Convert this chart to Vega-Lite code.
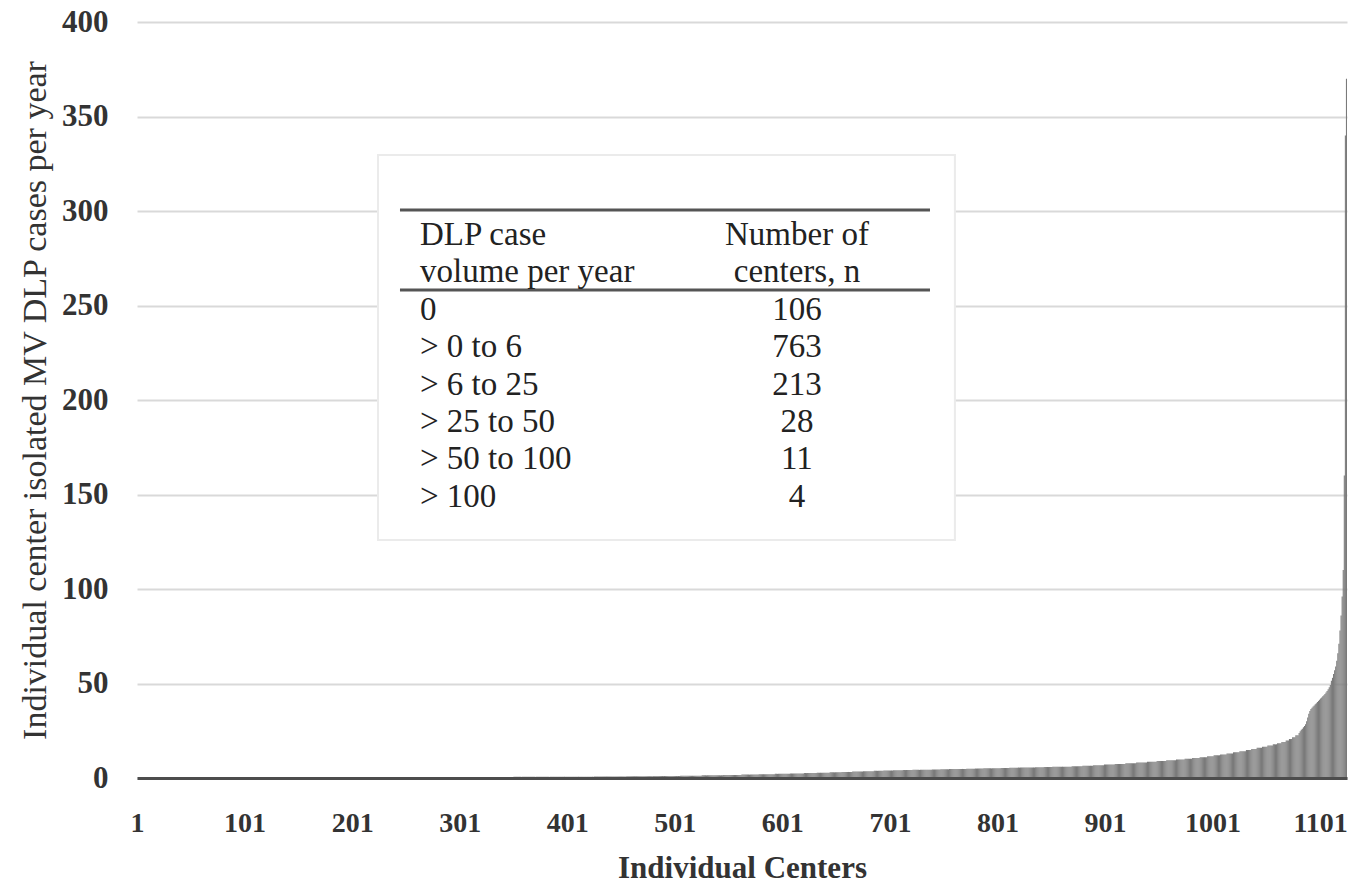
{
"$schema": "https://vega.github.io/schema/vega-lite/v6.json",
"width": 1210,
"height": 756,
"autosize": {"type": "none"},
"padding": {"left": 137, "top": 22, "right": 3, "bottom": 106},
"background": "white",
"config": {"view": {"stroke": null}, "font": "Liberation Serif", "axis": {"labelFont": "Liberation Serif", "titleFont": "Liberation Serif"}},
"layer": [
{
"data": {"values": [
{"c":1,"v":0},{"c":2,"v":0},{"c":3,"v":0},{"c":4,"v":0},{"c":5,"v":0},{"c":6,"v":0},{"c":7,"v":0},{"c":8,"v":0},{"c":9,"v":0},{"c":10,"v":0},
{"c":11,"v":0},{"c":12,"v":0},{"c":13,"v":0},{"c":14,"v":0},{"c":15,"v":0},{"c":16,"v":0},{"c":17,"v":0},{"c":18,"v":0},{"c":19,"v":0},{"c":20,"v":0},
{"c":21,"v":0},{"c":22,"v":0},{"c":23,"v":0},{"c":24,"v":0},{"c":25,"v":0},{"c":26,"v":0},{"c":27,"v":0},{"c":28,"v":0},{"c":29,"v":0},{"c":30,"v":0},
{"c":31,"v":0},{"c":32,"v":0},{"c":33,"v":0},{"c":34,"v":0},{"c":35,"v":0},{"c":36,"v":0},{"c":37,"v":0},{"c":38,"v":0},{"c":39,"v":0},{"c":40,"v":0},
{"c":41,"v":0},{"c":42,"v":0},{"c":43,"v":0},{"c":44,"v":0},{"c":45,"v":0},{"c":46,"v":0},{"c":47,"v":0},{"c":48,"v":0},{"c":49,"v":0},{"c":50,"v":0},
{"c":51,"v":0},{"c":52,"v":0},{"c":53,"v":0},{"c":54,"v":0},{"c":55,"v":0},{"c":56,"v":0},{"c":57,"v":0},{"c":58,"v":0},{"c":59,"v":0},{"c":60,"v":0},
{"c":61,"v":0},{"c":62,"v":0},{"c":63,"v":0},{"c":64,"v":0},{"c":65,"v":0},{"c":66,"v":0},{"c":67,"v":0},{"c":68,"v":0},{"c":69,"v":0},{"c":70,"v":0},
{"c":71,"v":0},{"c":72,"v":0},{"c":73,"v":0},{"c":74,"v":0},{"c":75,"v":0},{"c":76,"v":0},{"c":77,"v":0},{"c":78,"v":0},{"c":79,"v":0},{"c":80,"v":0},
{"c":81,"v":0},{"c":82,"v":0},{"c":83,"v":0},{"c":84,"v":0},{"c":85,"v":0},{"c":86,"v":0},{"c":87,"v":0},{"c":88,"v":0},{"c":89,"v":0},{"c":90,"v":0},
{"c":91,"v":0},{"c":92,"v":0},{"c":93,"v":0},{"c":94,"v":0},{"c":95,"v":0},{"c":96,"v":0},{"c":97,"v":0},{"c":98,"v":0},{"c":99,"v":0},{"c":100,"v":0},
{"c":101,"v":0},{"c":102,"v":0},{"c":103,"v":0},{"c":104,"v":0},{"c":105,"v":0},{"c":106,"v":0},{"c":107,"v":0.1},{"c":108,"v":0.1},{"c":109,"v":0.1},{"c":110,"v":0.1},
{"c":111,"v":0.1},{"c":112,"v":0.1},{"c":113,"v":0.1},{"c":114,"v":0.1},{"c":115,"v":0.1},{"c":116,"v":0.1},{"c":117,"v":0.1},{"c":118,"v":0.1},{"c":119,"v":0.1},{"c":120,"v":0.1},
{"c":121,"v":0.1},{"c":122,"v":0.1},{"c":123,"v":0.1},{"c":124,"v":0.1},{"c":125,"v":0.1},{"c":126,"v":0.1},{"c":127,"v":0.1},{"c":128,"v":0.1},{"c":129,"v":0.1},{"c":130,"v":0.1},
{"c":131,"v":0.1},{"c":132,"v":0.1},{"c":133,"v":0.1},{"c":134,"v":0.1},{"c":135,"v":0.1},{"c":136,"v":0.1},{"c":137,"v":0.1},{"c":138,"v":0.1},{"c":139,"v":0.1},{"c":140,"v":0.1},
{"c":141,"v":0.1},{"c":142,"v":0.1},{"c":143,"v":0.1},{"c":144,"v":0.1},{"c":145,"v":0.1},{"c":146,"v":0.1},{"c":147,"v":0.1},{"c":148,"v":0.1},{"c":149,"v":0.1},{"c":150,"v":0.1},
{"c":151,"v":0.1},{"c":152,"v":0.1},{"c":153,"v":0.1},{"c":154,"v":0.1},{"c":155,"v":0.1},{"c":156,"v":0.1},{"c":157,"v":0.1},{"c":158,"v":0.1},{"c":159,"v":0.1},{"c":160,"v":0.1},
{"c":161,"v":0.2},{"c":162,"v":0.2},{"c":163,"v":0.2},{"c":164,"v":0.2},{"c":165,"v":0.2},{"c":166,"v":0.2},{"c":167,"v":0.2},{"c":168,"v":0.2},{"c":169,"v":0.2},{"c":170,"v":0.2},
{"c":171,"v":0.2},{"c":172,"v":0.2},{"c":173,"v":0.2},{"c":174,"v":0.2},{"c":175,"v":0.2},{"c":176,"v":0.2},{"c":177,"v":0.2},{"c":178,"v":0.2},{"c":179,"v":0.2},{"c":180,"v":0.2},
{"c":181,"v":0.2},{"c":182,"v":0.2},{"c":183,"v":0.2},{"c":184,"v":0.2},{"c":185,"v":0.2},{"c":186,"v":0.2},{"c":187,"v":0.2},{"c":188,"v":0.2},{"c":189,"v":0.2},{"c":190,"v":0.2},
{"c":191,"v":0.2},{"c":192,"v":0.2},{"c":193,"v":0.2},{"c":194,"v":0.2},{"c":195,"v":0.2},{"c":196,"v":0.2},{"c":197,"v":0.2},{"c":198,"v":0.2},{"c":199,"v":0.2},{"c":200,"v":0.2},
{"c":201,"v":0.2},{"c":202,"v":0.2},{"c":203,"v":0.2},{"c":204,"v":0.2},{"c":205,"v":0.2},{"c":206,"v":0.2},{"c":207,"v":0.2},{"c":208,"v":0.2},{"c":209,"v":0.2},{"c":210,"v":0.2},
{"c":211,"v":0.2},{"c":212,"v":0.2},{"c":213,"v":0.2},{"c":214,"v":0.2},{"c":215,"v":0.2},{"c":216,"v":0.3},{"c":217,"v":0.3},{"c":218,"v":0.3},{"c":219,"v":0.3},{"c":220,"v":0.3},
{"c":221,"v":0.3},{"c":222,"v":0.3},{"c":223,"v":0.3},{"c":224,"v":0.3},{"c":225,"v":0.3},{"c":226,"v":0.3},{"c":227,"v":0.3},{"c":228,"v":0.3},{"c":229,"v":0.3},{"c":230,"v":0.3},
{"c":231,"v":0.3},{"c":232,"v":0.3},{"c":233,"v":0.3},{"c":234,"v":0.3},{"c":235,"v":0.3},{"c":236,"v":0.3},{"c":237,"v":0.3},{"c":238,"v":0.3},{"c":239,"v":0.3},{"c":240,"v":0.3},
{"c":241,"v":0.3},{"c":242,"v":0.3},{"c":243,"v":0.3},{"c":244,"v":0.3},{"c":245,"v":0.3},{"c":246,"v":0.3},{"c":247,"v":0.3},{"c":248,"v":0.3},{"c":249,"v":0.3},{"c":250,"v":0.3},
{"c":251,"v":0.3},{"c":252,"v":0.3},{"c":253,"v":0.3},{"c":254,"v":0.3},{"c":255,"v":0.3},{"c":256,"v":0.3},{"c":257,"v":0.3},{"c":258,"v":0.3},{"c":259,"v":0.3},{"c":260,"v":0.3},
{"c":261,"v":0.3},{"c":262,"v":0.3},{"c":263,"v":0.3},{"c":264,"v":0.3},{"c":265,"v":0.3},{"c":266,"v":0.4},{"c":267,"v":0.4},{"c":268,"v":0.4},{"c":269,"v":0.4},{"c":270,"v":0.4},
{"c":271,"v":0.4},{"c":272,"v":0.4},{"c":273,"v":0.4},{"c":274,"v":0.4},{"c":275,"v":0.4},{"c":276,"v":0.4},{"c":277,"v":0.4},{"c":278,"v":0.4},{"c":279,"v":0.4},{"c":280,"v":0.4},
{"c":281,"v":0.4},{"c":282,"v":0.4},{"c":283,"v":0.4},{"c":284,"v":0.4},{"c":285,"v":0.4},{"c":286,"v":0.4},{"c":287,"v":0.4},{"c":288,"v":0.4},{"c":289,"v":0.4},{"c":290,"v":0.4},
{"c":291,"v":0.4},{"c":292,"v":0.4},{"c":293,"v":0.4},{"c":294,"v":0.4},{"c":295,"v":0.4},{"c":296,"v":0.4},{"c":297,"v":0.4},{"c":298,"v":0.4},{"c":299,"v":0.4},{"c":300,"v":0.4},
{"c":301,"v":0.4},{"c":302,"v":0.4},{"c":303,"v":0.4},{"c":304,"v":0.4},{"c":305,"v":0.4},{"c":306,"v":0.4},{"c":307,"v":0.4},{"c":308,"v":0.4},{"c":309,"v":0.4},{"c":310,"v":0.4},
{"c":311,"v":0.5},{"c":312,"v":0.5},{"c":313,"v":0.5},{"c":314,"v":0.5},{"c":315,"v":0.5},{"c":316,"v":0.5},{"c":317,"v":0.5},{"c":318,"v":0.5},{"c":319,"v":0.5},{"c":320,"v":0.5},
{"c":321,"v":0.5},{"c":322,"v":0.5},{"c":323,"v":0.5},{"c":324,"v":0.5},{"c":325,"v":0.5},{"c":326,"v":0.5},{"c":327,"v":0.5},{"c":328,"v":0.5},{"c":329,"v":0.5},{"c":330,"v":0.5},
{"c":331,"v":0.5},{"c":332,"v":0.5},{"c":333,"v":0.5},{"c":334,"v":0.5},{"c":335,"v":0.5},{"c":336,"v":0.5},{"c":337,"v":0.5},{"c":338,"v":0.5},{"c":339,"v":0.5},{"c":340,"v":0.5},
{"c":341,"v":0.5},{"c":342,"v":0.5},{"c":343,"v":0.5},{"c":344,"v":0.5},{"c":345,"v":0.5},{"c":346,"v":0.5},{"c":347,"v":0.5},{"c":348,"v":0.5},{"c":349,"v":0.5},{"c":350,"v":0.5},
{"c":351,"v":0.6},{"c":352,"v":0.6},{"c":353,"v":0.6},{"c":354,"v":0.6},{"c":355,"v":0.6},{"c":356,"v":0.6},{"c":357,"v":0.6},{"c":358,"v":0.6},{"c":359,"v":0.6},{"c":360,"v":0.6},
{"c":361,"v":0.6},{"c":362,"v":0.6},{"c":363,"v":0.6},{"c":364,"v":0.6},{"c":365,"v":0.6},{"c":366,"v":0.6},{"c":367,"v":0.6},{"c":368,"v":0.6},{"c":369,"v":0.6},{"c":370,"v":0.6},
{"c":371,"v":0.6},{"c":372,"v":0.6},{"c":373,"v":0.6},{"c":374,"v":0.6},{"c":375,"v":0.6},{"c":376,"v":0.6},{"c":377,"v":0.6},{"c":378,"v":0.6},{"c":379,"v":0.6},{"c":380,"v":0.6},
{"c":381,"v":0.6},{"c":382,"v":0.6},{"c":383,"v":0.6},{"c":384,"v":0.6},{"c":385,"v":0.6},{"c":386,"v":0.6},{"c":387,"v":0.6},{"c":388,"v":0.6},{"c":389,"v":0.6},{"c":390,"v":0.6},
{"c":391,"v":0.7},{"c":392,"v":0.7},{"c":393,"v":0.7},{"c":394,"v":0.7},{"c":395,"v":0.7},{"c":396,"v":0.7},{"c":397,"v":0.7},{"c":398,"v":0.7},{"c":399,"v":0.7},{"c":400,"v":0.7},
{"c":401,"v":0.7},{"c":402,"v":0.7},{"c":403,"v":0.7},{"c":404,"v":0.7},{"c":405,"v":0.7},{"c":406,"v":0.7},{"c":407,"v":0.7},{"c":408,"v":0.7},{"c":409,"v":0.7},{"c":410,"v":0.7},
{"c":411,"v":0.7},{"c":412,"v":0.7},{"c":413,"v":0.7},{"c":414,"v":0.7},{"c":415,"v":0.7},{"c":416,"v":0.7},{"c":417,"v":0.7},{"c":418,"v":0.7},{"c":419,"v":0.7},{"c":420,"v":0.7},
{"c":421,"v":0.7},{"c":422,"v":0.7},{"c":423,"v":0.7},{"c":424,"v":0.7},{"c":425,"v":0.7},{"c":426,"v":0.8},{"c":427,"v":0.8},{"c":428,"v":0.8},{"c":429,"v":0.8},{"c":430,"v":0.8},
{"c":431,"v":0.8},{"c":432,"v":0.8},{"c":433,"v":0.8},{"c":434,"v":0.8},{"c":435,"v":0.8},{"c":436,"v":0.8},{"c":437,"v":0.8},{"c":438,"v":0.8},{"c":439,"v":0.8},{"c":440,"v":0.8},
{"c":441,"v":0.8},{"c":442,"v":0.8},{"c":443,"v":0.8},{"c":444,"v":0.8},{"c":445,"v":0.8},{"c":446,"v":0.8},{"c":447,"v":0.8},{"c":448,"v":0.8},{"c":449,"v":0.8},{"c":450,"v":0.8},
{"c":451,"v":0.8},{"c":452,"v":0.8},{"c":453,"v":0.8},{"c":454,"v":0.8},{"c":455,"v":0.8},{"c":456,"v":0.9},{"c":457,"v":0.9},{"c":458,"v":0.9},{"c":459,"v":0.9},{"c":460,"v":0.9},
{"c":461,"v":0.9},{"c":462,"v":0.9},{"c":463,"v":0.9},{"c":464,"v":0.9},{"c":465,"v":0.9},{"c":466,"v":0.9},{"c":467,"v":0.9},{"c":468,"v":0.9},{"c":469,"v":0.9},{"c":470,"v":0.9},
{"c":471,"v":0.9},{"c":472,"v":0.9},{"c":473,"v":0.9},{"c":474,"v":0.9},{"c":475,"v":0.9},{"c":476,"v":0.9},{"c":477,"v":0.9},{"c":478,"v":0.9},{"c":479,"v":0.9},{"c":480,"v":0.9},
{"c":481,"v":1},{"c":482,"v":1},{"c":483,"v":1},{"c":484,"v":1},{"c":485,"v":1},{"c":486,"v":1},{"c":487,"v":1},{"c":488,"v":1},{"c":489,"v":1},{"c":490,"v":1},
{"c":491,"v":1},{"c":492,"v":1},{"c":493,"v":1},{"c":494,"v":1},{"c":495,"v":1},{"c":496,"v":1},{"c":497,"v":1},{"c":498,"v":1},{"c":499,"v":1},{"c":500,"v":1},
{"c":501,"v":1},{"c":502,"v":1},{"c":503,"v":1},{"c":504,"v":1},{"c":505,"v":1},{"c":506,"v":1.2},{"c":507,"v":1.2},{"c":508,"v":1.2},{"c":509,"v":1.2},{"c":510,"v":1.2},
{"c":511,"v":1.2},{"c":512,"v":1.2},{"c":513,"v":1.2},{"c":514,"v":1.2},{"c":515,"v":1.2},{"c":516,"v":1.2},{"c":517,"v":1.2},{"c":518,"v":1.2},{"c":519,"v":1.2},{"c":520,"v":1.2},
{"c":521,"v":1.2},{"c":522,"v":1.2},{"c":523,"v":1.2},{"c":524,"v":1.2},{"c":525,"v":1.2},{"c":526,"v":1.4},{"c":527,"v":1.4},{"c":528,"v":1.4},{"c":529,"v":1.4},{"c":530,"v":1.4},
{"c":531,"v":1.4},{"c":532,"v":1.4},{"c":533,"v":1.4},{"c":534,"v":1.4},{"c":535,"v":1.4},{"c":536,"v":1.4},{"c":537,"v":1.4},{"c":538,"v":1.4},{"c":539,"v":1.4},{"c":540,"v":1.4},
{"c":541,"v":1.4},{"c":542,"v":1.4},{"c":543,"v":1.4},{"c":544,"v":1.4},{"c":545,"v":1.4},{"c":546,"v":1.6},{"c":547,"v":1.6},{"c":548,"v":1.6},{"c":549,"v":1.6},{"c":550,"v":1.6},
{"c":551,"v":1.6},{"c":552,"v":1.6},{"c":553,"v":1.6},{"c":554,"v":1.6},{"c":555,"v":1.6},{"c":556,"v":1.6},{"c":557,"v":1.6},{"c":558,"v":1.6},{"c":559,"v":1.6},{"c":560,"v":1.6},
{"c":561,"v":1.6},{"c":562,"v":1.6},{"c":563,"v":1.8},{"c":564,"v":1.8},{"c":565,"v":1.8},{"c":566,"v":1.8},{"c":567,"v":1.8},{"c":568,"v":1.8},{"c":569,"v":1.8},{"c":570,"v":1.8},
{"c":571,"v":1.8},{"c":572,"v":1.8},{"c":573,"v":1.8},{"c":574,"v":1.8},{"c":575,"v":1.8},{"c":576,"v":1.8},{"c":577,"v":1.8},{"c":578,"v":1.8},{"c":579,"v":2},{"c":580,"v":2},
{"c":581,"v":2},{"c":582,"v":2},{"c":583,"v":2},{"c":584,"v":2},{"c":585,"v":2},{"c":586,"v":2},{"c":587,"v":2},{"c":588,"v":2},{"c":589,"v":2},{"c":590,"v":2},
{"c":591,"v":2},{"c":592,"v":2},{"c":593,"v":2},{"c":594,"v":2.2},{"c":595,"v":2.2},{"c":596,"v":2.2},{"c":597,"v":2.2},{"c":598,"v":2.2},{"c":599,"v":2.2},{"c":600,"v":2.2},
{"c":601,"v":2.2},{"c":602,"v":2.2},{"c":603,"v":2.2},{"c":604,"v":2.2},{"c":605,"v":2.2},{"c":606,"v":2.2},{"c":607,"v":2.2},{"c":608,"v":2.4},{"c":609,"v":2.4},{"c":610,"v":2.4},
{"c":611,"v":2.4},{"c":612,"v":2.4},{"c":613,"v":2.4},{"c":614,"v":2.4},{"c":615,"v":2.4},{"c":616,"v":2.4},{"c":617,"v":2.4},{"c":618,"v":2.4},{"c":619,"v":2.4},{"c":620,"v":2.4},
{"c":621,"v":2.6},{"c":622,"v":2.6},{"c":623,"v":2.6},{"c":624,"v":2.6},{"c":625,"v":2.6},{"c":626,"v":2.6},{"c":627,"v":2.6},{"c":628,"v":2.6},{"c":629,"v":2.6},{"c":630,"v":2.6},
{"c":631,"v":2.6},{"c":632,"v":2.6},{"c":633,"v":2.8},{"c":634,"v":2.8},{"c":635,"v":2.8},{"c":636,"v":2.8},{"c":637,"v":2.8},{"c":638,"v":2.8},{"c":639,"v":2.8},{"c":640,"v":2.8},
{"c":641,"v":2.8},{"c":642,"v":2.8},{"c":643,"v":2.8},{"c":644,"v":2.8},{"c":645,"v":3},{"c":646,"v":3},{"c":647,"v":3},{"c":648,"v":3},{"c":649,"v":3},{"c":650,"v":3},
{"c":651,"v":3},{"c":652,"v":3},{"c":653,"v":3},{"c":654,"v":3},{"c":655,"v":3},{"c":656,"v":3.2},{"c":657,"v":3.2},{"c":658,"v":3.2},{"c":659,"v":3.2},{"c":660,"v":3.2},
{"c":661,"v":3.2},{"c":662,"v":3.2},{"c":663,"v":3.2},{"c":664,"v":3.2},{"c":665,"v":3.2},{"c":666,"v":3.4},{"c":667,"v":3.4},{"c":668,"v":3.4},{"c":669,"v":3.4},{"c":670,"v":3.4},
{"c":671,"v":3.4},{"c":672,"v":3.4},{"c":673,"v":3.4},{"c":674,"v":3.4},{"c":675,"v":3.4},{"c":676,"v":3.6},{"c":677,"v":3.6},{"c":678,"v":3.6},{"c":679,"v":3.6},{"c":680,"v":3.6},
{"c":681,"v":3.6},{"c":682,"v":3.6},{"c":683,"v":3.6},{"c":684,"v":3.6},{"c":685,"v":3.6},{"c":686,"v":3.8},{"c":687,"v":3.8},{"c":688,"v":3.8},{"c":689,"v":3.8},{"c":690,"v":3.8},
{"c":691,"v":3.8},{"c":692,"v":3.8},{"c":693,"v":3.8},{"c":694,"v":3.8},{"c":695,"v":4},{"c":696,"v":4},{"c":697,"v":4},{"c":698,"v":4},{"c":699,"v":4},{"c":700,"v":4},
{"c":701,"v":4},{"c":702,"v":4},{"c":703,"v":4},{"c":704,"v":4.1},{"c":705,"v":4.1},{"c":706,"v":4.1},{"c":707,"v":4.1},{"c":708,"v":4.1},{"c":709,"v":4.1},{"c":710,"v":4.1},
{"c":711,"v":4.1},{"c":712,"v":4.1},{"c":713,"v":4.2},{"c":714,"v":4.2},{"c":715,"v":4.2},{"c":716,"v":4.2},{"c":717,"v":4.2},{"c":718,"v":4.2},{"c":719,"v":4.2},{"c":720,"v":4.2},
{"c":721,"v":4.2},{"c":722,"v":4.3},{"c":723,"v":4.3},{"c":724,"v":4.3},{"c":725,"v":4.3},{"c":726,"v":4.3},{"c":727,"v":4.3},{"c":728,"v":4.3},{"c":729,"v":4.3},{"c":730,"v":4.3},
{"c":731,"v":4.4},{"c":732,"v":4.4},{"c":733,"v":4.4},{"c":734,"v":4.4},{"c":735,"v":4.4},{"c":736,"v":4.4},{"c":737,"v":4.4},{"c":738,"v":4.4},{"c":739,"v":4.4},{"c":740,"v":4.5},
{"c":741,"v":4.5},{"c":742,"v":4.5},{"c":743,"v":4.5},{"c":744,"v":4.5},{"c":745,"v":4.5},{"c":746,"v":4.5},{"c":747,"v":4.5},{"c":748,"v":4.6},{"c":749,"v":4.6},{"c":750,"v":4.6},
{"c":751,"v":4.6},{"c":752,"v":4.6},{"c":753,"v":4.6},{"c":754,"v":4.6},{"c":755,"v":4.6},{"c":756,"v":4.7},{"c":757,"v":4.7},{"c":758,"v":4.7},{"c":759,"v":4.7},{"c":760,"v":4.7},
{"c":761,"v":4.7},{"c":762,"v":4.7},{"c":763,"v":4.7},{"c":764,"v":4.8},{"c":765,"v":4.8},{"c":766,"v":4.8},{"c":767,"v":4.8},{"c":768,"v":4.8},{"c":769,"v":4.8},{"c":770,"v":4.8},
{"c":771,"v":4.8},{"c":772,"v":4.9},{"c":773,"v":4.9},{"c":774,"v":4.9},{"c":775,"v":4.9},{"c":776,"v":4.9},{"c":777,"v":4.9},{"c":778,"v":4.9},{"c":779,"v":4.9},{"c":780,"v":5},
{"c":781,"v":5},{"c":782,"v":5},{"c":783,"v":5},{"c":784,"v":5},{"c":785,"v":5},{"c":786,"v":5},{"c":787,"v":5},{"c":788,"v":5.1},{"c":789,"v":5.1},{"c":790,"v":5.1},
{"c":791,"v":5.1},{"c":792,"v":5.1},{"c":793,"v":5.1},{"c":794,"v":5.1},{"c":795,"v":5.1},{"c":796,"v":5.2},{"c":797,"v":5.2},{"c":798,"v":5.2},{"c":799,"v":5.2},{"c":800,"v":5.2},
{"c":801,"v":5.2},{"c":802,"v":5.2},{"c":803,"v":5.2},{"c":804,"v":5.3},{"c":805,"v":5.3},{"c":806,"v":5.3},{"c":807,"v":5.3},{"c":808,"v":5.3},{"c":809,"v":5.3},{"c":810,"v":5.3},
{"c":811,"v":5.3},{"c":812,"v":5.4},{"c":813,"v":5.4},{"c":814,"v":5.4},{"c":815,"v":5.4},{"c":816,"v":5.4},{"c":817,"v":5.4},{"c":818,"v":5.4},{"c":819,"v":5.4},{"c":820,"v":5.5},
{"c":821,"v":5.5},{"c":822,"v":5.5},{"c":823,"v":5.5},{"c":824,"v":5.5},{"c":825,"v":5.5},{"c":826,"v":5.5},{"c":827,"v":5.5},{"c":828,"v":5.6},{"c":829,"v":5.6},{"c":830,"v":5.6},
{"c":831,"v":5.6},{"c":832,"v":5.6},{"c":833,"v":5.6},{"c":834,"v":5.6},{"c":835,"v":5.6},{"c":836,"v":5.7},{"c":837,"v":5.7},{"c":838,"v":5.7},{"c":839,"v":5.7},{"c":840,"v":5.7},
{"c":841,"v":5.7},{"c":842,"v":5.7},{"c":843,"v":5.7},{"c":844,"v":5.8},{"c":845,"v":5.8},{"c":846,"v":5.8},{"c":847,"v":5.8},{"c":848,"v":5.8},{"c":849,"v":5.8},{"c":850,"v":5.8},
{"c":851,"v":5.8},{"c":852,"v":5.9},{"c":853,"v":5.9},{"c":854,"v":5.9},{"c":855,"v":5.9},{"c":856,"v":5.9},{"c":857,"v":5.9},{"c":858,"v":5.9},{"c":859,"v":5.9},{"c":860,"v":5.9},
{"c":861,"v":6},{"c":862,"v":6},{"c":863,"v":6},{"c":864,"v":6},{"c":865,"v":6},{"c":866,"v":6},{"c":867,"v":6},{"c":868,"v":6},{"c":869,"v":6},{"c":870,"v":6.2},
{"c":871,"v":6.2},{"c":872,"v":6.2},{"c":873,"v":6.2},{"c":874,"v":6.2},{"c":875,"v":6.2},{"c":876,"v":6.2},{"c":877,"v":6.2},{"c":878,"v":6.2},{"c":879,"v":6.2},{"c":880,"v":6.5},
{"c":881,"v":6.5},{"c":882,"v":6.5},{"c":883,"v":6.5},{"c":884,"v":6.5},{"c":885,"v":6.5},{"c":886,"v":6.5},{"c":887,"v":6.5},{"c":888,"v":6.5},{"c":889,"v":6.5},{"c":890,"v":6.8},
{"c":891,"v":6.8},{"c":892,"v":6.8},{"c":893,"v":6.8},{"c":894,"v":6.8},{"c":895,"v":6.8},{"c":896,"v":6.8},{"c":897,"v":6.8},{"c":898,"v":6.8},{"c":899,"v":6.8},{"c":900,"v":7.1},
{"c":901,"v":7.1},{"c":902,"v":7.1},{"c":903,"v":7.1},{"c":904,"v":7.1},{"c":905,"v":7.1},{"c":906,"v":7.1},{"c":907,"v":7.1},{"c":908,"v":7.1},{"c":909,"v":7.1},{"c":910,"v":7.4},
{"c":911,"v":7.4},{"c":912,"v":7.4},{"c":913,"v":7.4},{"c":914,"v":7.4},{"c":915,"v":7.4},{"c":916,"v":7.4},{"c":917,"v":7.4},{"c":918,"v":7.4},{"c":919,"v":7.4},{"c":920,"v":7.8},
{"c":921,"v":7.8},{"c":922,"v":7.8},{"c":923,"v":7.8},{"c":924,"v":7.8},{"c":925,"v":7.8},{"c":926,"v":7.8},{"c":927,"v":7.8},{"c":928,"v":7.8},{"c":929,"v":7.8},{"c":930,"v":8.2},
{"c":931,"v":8.2},{"c":932,"v":8.2},{"c":933,"v":8.2},{"c":934,"v":8.2},{"c":935,"v":8.2},{"c":936,"v":8.2},{"c":937,"v":8.2},{"c":938,"v":8.2},{"c":939,"v":8.2},{"c":940,"v":8.6},
{"c":941,"v":8.6},{"c":942,"v":8.6},{"c":943,"v":8.6},{"c":944,"v":8.6},{"c":945,"v":8.6},{"c":946,"v":8.6},{"c":947,"v":8.6},{"c":948,"v":8.6},{"c":949,"v":9},{"c":950,"v":9},
{"c":951,"v":9},{"c":952,"v":9},{"c":953,"v":9},{"c":954,"v":9},{"c":955,"v":9},{"c":956,"v":9},{"c":957,"v":9},{"c":958,"v":9.4},{"c":959,"v":9.4},{"c":960,"v":9.4},
{"c":961,"v":9.4},{"c":962,"v":9.4},{"c":963,"v":9.4},{"c":964,"v":9.4},{"c":965,"v":9.4},{"c":966,"v":9.4},{"c":967,"v":9.8},{"c":968,"v":9.8},{"c":969,"v":9.8},{"c":970,"v":9.8},
{"c":971,"v":9.8},{"c":972,"v":9.8},{"c":973,"v":9.8},{"c":974,"v":9.8},{"c":975,"v":10.2},{"c":976,"v":10.2},{"c":977,"v":10.2},{"c":978,"v":10.2},{"c":979,"v":10.2},{"c":980,"v":10.2},
{"c":981,"v":10.2},{"c":982,"v":10.6},{"c":983,"v":10.6},{"c":984,"v":10.6},{"c":985,"v":10.6},{"c":986,"v":10.6},{"c":987,"v":10.6},{"c":988,"v":10.6},{"c":989,"v":11},{"c":990,"v":11},
{"c":991,"v":11},{"c":992,"v":11},{"c":993,"v":11},{"c":994,"v":11},{"c":995,"v":11},{"c":996,"v":11.5},{"c":997,"v":11.5},{"c":998,"v":11.5},{"c":999,"v":11.5},{"c":1000,"v":11.5},
{"c":1001,"v":11.5},{"c":1002,"v":12},{"c":1003,"v":12},{"c":1004,"v":12},{"c":1005,"v":12},{"c":1006,"v":12},{"c":1007,"v":12},{"c":1008,"v":12.5},{"c":1009,"v":12.5},{"c":1010,"v":12.5},
{"c":1011,"v":12.5},{"c":1012,"v":12.5},{"c":1013,"v":12.5},{"c":1014,"v":13},{"c":1015,"v":13},{"c":1016,"v":13},{"c":1017,"v":13},{"c":1018,"v":13},{"c":1019,"v":13},{"c":1020,"v":13.6},
{"c":1021,"v":13.6},{"c":1022,"v":13.6},{"c":1023,"v":13.6},{"c":1024,"v":13.6},{"c":1025,"v":13.6},{"c":1026,"v":14.2},{"c":1027,"v":14.2},{"c":1028,"v":14.2},{"c":1029,"v":14.2},{"c":1030,"v":14.2},
{"c":1031,"v":14.2},{"c":1032,"v":14.8},{"c":1033,"v":14.8},{"c":1034,"v":14.8},{"c":1035,"v":14.8},{"c":1036,"v":14.8},{"c":1037,"v":15.4},{"c":1038,"v":15.4},{"c":1039,"v":15.4},{"c":1040,"v":15.4},
{"c":1041,"v":15.4},{"c":1042,"v":16},{"c":1043,"v":16},{"c":1044,"v":16},{"c":1045,"v":16},{"c":1046,"v":16},{"c":1047,"v":16.6},{"c":1048,"v":16.6},{"c":1049,"v":16.6},{"c":1050,"v":16.6},
{"c":1051,"v":16.6},{"c":1052,"v":17.2},{"c":1053,"v":17.2},{"c":1054,"v":17.2},{"c":1055,"v":17.2},{"c":1056,"v":17.2},{"c":1057,"v":17.8},{"c":1058,"v":17.8},{"c":1059,"v":17.8},{"c":1060,"v":17.8},
{"c":1061,"v":18.4},{"c":1062,"v":18.4},{"c":1063,"v":18.4},{"c":1064,"v":18.4},{"c":1065,"v":19},{"c":1066,"v":19},{"c":1067,"v":19},{"c":1068,"v":19},{"c":1069,"v":19.8},{"c":1070,"v":19.8},
{"c":1071,"v":19.8},{"c":1072,"v":20.6},{"c":1073,"v":20.6},{"c":1074,"v":20.6},{"c":1075,"v":21.5},{"c":1076,"v":21.5},{"c":1077,"v":21.5},{"c":1078,"v":22.6},{"c":1079,"v":22.6},{"c":1080,"v":22.6},
{"c":1081,"v":23.8},{"c":1082,"v":24.8},{"c":1083,"v":25.5},{"c":1084,"v":26},{"c":1085,"v":26.8},{"c":1086,"v":27.5},{"c":1087,"v":28.5},{"c":1088,"v":30},{"c":1089,"v":32},{"c":1090,"v":34},
{"c":1091,"v":35.5},{"c":1092,"v":36.5},{"c":1093,"v":37.2},{"c":1094,"v":37.8},{"c":1095,"v":38.4},{"c":1096,"v":39},{"c":1097,"v":39.6},{"c":1098,"v":40.2},{"c":1099,"v":40.8},{"c":1100,"v":41.4},
{"c":1101,"v":42},{"c":1102,"v":42.6},{"c":1103,"v":43.2},{"c":1104,"v":43.8},{"c":1105,"v":44.5},{"c":1106,"v":45.2},{"c":1107,"v":46},{"c":1108,"v":47},{"c":1109,"v":48},{"c":1110,"v":49.2},
{"c":1111,"v":51.5},{"c":1112,"v":53},{"c":1113,"v":55},{"c":1114,"v":57},{"c":1115,"v":59},{"c":1116,"v":62},{"c":1117,"v":66},{"c":1118,"v":71},{"c":1119,"v":78},{"c":1120,"v":86},
{"c":1121,"v":96},{"c":1122,"v":110},{"c":1123,"v":160},{"c":1124,"v":340},{"c":1125,"v":370}
]},
"mark": {"type": "bar", "color": "#7a7a7a"},
"encoding": {
"x": {"field": "c", "type": "ordinal", "scale": {"paddingInner": 0, "paddingOuter": 0},
"axis": {"values": [1,101,201,301,401,501,601,701,801,901,1001,1101], "labelAngle": 0, "ticks": false, "tickSize": 0, "domain": true, "domainColor": "#4d4d4d", "domainWidth": 3, "grid": false, "zindex": 1,
"labelFontSize": 28, "labelFontWeight": "bold", "labelColor": "#333333", "labelPadding": 31, "labelOverlap": false, "labelBound": false,
"title": "Individual Centers", "titleFontSize": 31, "titleFontWeight": "bold", "titleColor": "#333333", "titlePadding": 16}},
"y": {"field": "v", "type": "quantitative", "scale": {"domain": [0, 400], "nice": false},
"axis": {"values": [0,50,100,150,200,250,300,350,400], "grid": true, "gridColor": "#d9d9d9", "gridWidth": 2, "domain": false, "ticks": false, "tickSize": 0,
"labelFontSize": 31, "labelFontWeight": "bold", "labelColor": "#333333", "labelPadding": 29,
"title": "Individual center isolated MV DLP cases per year", "titleFontSize": 34, "titleFontWeight": "normal", "titleColor": "#333333", "titlePadding": 9}}
}
},
{
"layer": [
{
"data": {"values": [{"box": "table"}]},
"mark": {"type": "rect", "fill": "white", "stroke": "#ebebeb", "strokeWidth": 2},
"encoding": {
"x": {"datum": -0.0415, "type": "quantitative", "scale": {"domain": [-0.4962, 1.7868], "nice": false, "zero": false}, "axis": null},
"x2": {"datum": 1.047},
"y": {"datum": -2.14, "type": "quantitative", "scale": {"domain": [-5.695, 14.519], "reverse": true, "nice": false, "zero": false}, "axis": null},
"y2": {"datum": 8.155}
}
},
{
"data": {"values": [{"rule": "top"}]},
"mark": {"type": "rule", "color": "#555555", "strokeWidth": 3},
"encoding": {
"x": {"datum": 0, "type": "quantitative", "scale": {"domain": [-0.4962, 1.7868], "nice": false, "zero": false}, "axis": null},
"x2": {"datum": 1},
"y": {"datum": -0.668, "type": "quantitative", "scale": {"domain": [-5.695, 14.519], "reverse": true, "nice": false, "zero": false}, "axis": null}
}
},
{
"data": {"values": [{"rule": "header"}]},
"mark": {"type": "rule", "color": "#555555", "strokeWidth": 3},
"encoding": {
"x": {"datum": 0, "type": "quantitative", "scale": {"domain": [-0.4962, 1.7868], "nice": false, "zero": false}, "axis": null},
"x2": {"datum": 1},
"y": {"datum": 1.47, "type": "quantitative", "scale": {"domain": [-5.695, 14.519], "reverse": true, "nice": false, "zero": false}, "axis": null}
}
},
{
"data": {"name": "table", "values": [
{"line": 0, "vol": "DLP case", "n": "Number of"},
{"line": 1, "vol": "volume per year", "n": "centers, n"},
{"line": 2, "vol": "0", "n": "106"},
{"line": 3, "vol": "> 0 to 6", "n": "763"},
{"line": 4, "vol": "> 6 to 25", "n": "213"},
{"line": 5, "vol": "> 25 to 50", "n": "28"},
{"line": 6, "vol": "> 50 to 100", "n": "11"},
{"line": 7, "vol": "> 100", "n": "4"}
]},
"layer": [
{
"mark": {"type": "text", "align": "left", "baseline": "middle", "font": "Liberation Serif", "fontSize": 33, "color": "#222222"},
"encoding": {
"x": {"datum": 0.0377, "type": "quantitative", "scale": {"domain": [-0.4962, 1.7868], "nice": false, "zero": false}, "axis": null},
"y": {"field": "line", "type": "quantitative", "scale": {"domain": [-5.695, 14.519], "reverse": true, "nice": false, "zero": false}, "axis": null},
"text": {"field": "vol"}
}
},
{
"mark": {"type": "text", "align": "center", "baseline": "middle", "font": "Liberation Serif", "fontSize": 33, "color": "#222222"},
"encoding": {
"x": {"datum": 0.749, "type": "quantitative", "scale": {"domain": [-0.4962, 1.7868], "nice": false, "zero": false}, "axis": null},
"y": {"field": "line", "type": "quantitative", "scale": {"domain": [-5.695, 14.519], "reverse": true, "nice": false, "zero": false}, "axis": null},
"text": {"field": "n"}
}
}
]
}
]
}
],
"resolve": {"scale": {"x": "independent", "y": "independent"}}
}
